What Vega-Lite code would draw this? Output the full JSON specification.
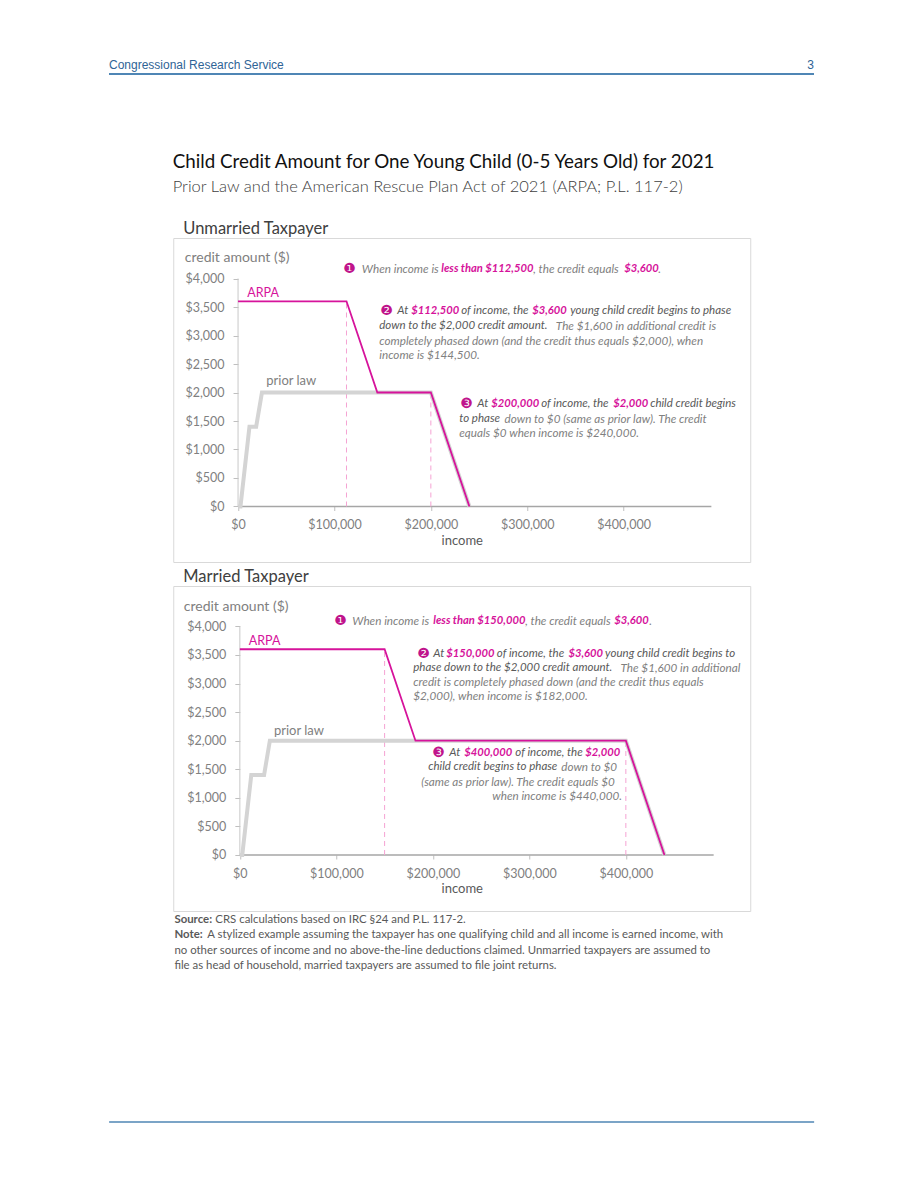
{
  "$schema": "https://vega.github.io/schema/vega-lite/v6.json",
  "background": "white",
  "padding": {"left": 108, "top": 54, "right": 0, "bottom": 0},
  "config": {"font": "Lato", "view": {"stroke": "#d9d9d9", "strokeWidth": 1}},
  "datasets": {
    "unmarried_lines": [
      {"series": "prior law", "income": 0, "credit": 0},
      {"series": "prior law", "income": 2500, "credit": 0},
      {"series": "prior law", "income": 11833, "credit": 1400},
      {"series": "prior law", "income": 18800, "credit": 1400},
      {"series": "prior law", "income": 24800, "credit": 2000},
      {"series": "prior law", "income": 200000, "credit": 2000},
      {"series": "prior law", "income": 240000, "credit": 0},
      {"series": "ARPA", "income": 0, "credit": 3600},
      {"series": "ARPA", "income": 112500, "credit": 3600},
      {"series": "ARPA", "income": 144500, "credit": 2000},
      {"series": "ARPA", "income": 200000, "credit": 2000},
      {"series": "ARPA", "income": 240000, "credit": 0}
    ],
    "married_lines": [
      {"series": "prior law", "income": 0, "credit": 0},
      {"series": "prior law", "income": 2500, "credit": 0},
      {"series": "prior law", "income": 11833, "credit": 1400},
      {"series": "prior law", "income": 25100, "credit": 1400},
      {"series": "prior law", "income": 31100, "credit": 2000},
      {"series": "prior law", "income": 400000, "credit": 2000},
      {"series": "prior law", "income": 440000, "credit": 0},
      {"series": "ARPA", "income": 0, "credit": 3600},
      {"series": "ARPA", "income": 150000, "credit": 3600},
      {"series": "ARPA", "income": 182000, "credit": 2000},
      {"series": "ARPA", "income": 400000, "credit": 2000},
      {"series": "ARPA", "income": 440000, "credit": 0}
    ],
    "unmarried_markers": [
      {"income": 112500, "credit": 0, "credit2": 3600},
      {"income": 200000, "credit": 0, "credit2": 2000}
    ],
    "married_markers": [
      {"income": 150000, "credit": 0, "credit2": 3600},
      {"income": 400000, "credit": 0, "credit2": 2000}
    ],
    "unmarried_labels": [
      {"series": "ARPA", "income": 9540, "credit": 3746, "text": "ARPA"},
      {"series": "prior law", "income": 29250, "credit": 2202, "text": "prior law"}
    ],
    "married_labels": [
      {"series": "ARPA", "income": 9220, "credit": 3745, "text": "ARPA"},
      {"series": "prior law", "income": 35340, "credit": 2170, "text": "prior law"}
    ],
    "unmarried_notes": [
      {"kind": "num", "income": 109130, "credit": 4167, "text": "❶"},
      {"kind": "light", "income": 128420, "credit": 4167, "text": "When income is"},
      {"kind": "emph", "income": 210790, "credit": 4167, "text": "less than $112,500"},
      {"kind": "light", "income": 306300, "credit": 4167, "text": ", the credit equals"},
      {"kind": "emph", "income": 400620, "credit": 4167, "text": "$3,600"},
      {"kind": "light", "income": 435890, "credit": 4167, "text": "."},
      {"kind": "num", "income": 147510, "credit": 3430, "text": "❷"},
      {"kind": "dark", "income": 165150, "credit": 3430, "text": "At"},
      {"kind": "emph", "income": 179670, "credit": 3430, "text": "$112,500"},
      {"kind": "dark", "income": 231540, "credit": 3430, "text": "of income, the"},
      {"kind": "emph", "income": 305190, "credit": 3430, "text": "$3,600"},
      {"kind": "dark", "income": 344610, "credit": 3430, "text": "young child credit begins to phase"},
      {"kind": "dark", "income": 146470, "credit": 3167, "text": "down to the $2,000 credit amount."},
      {"kind": "light", "income": 329670, "credit": 3167, "text": "The $1,600 in additional credit is"},
      {"kind": "light", "income": 146470, "credit": 2904, "text": "completely phased down (and the credit thus equals $2,000), when"},
      {"kind": "light", "income": 146470, "credit": 2658, "text": "income is $144,500."},
      {"kind": "num", "income": 230500, "credit": 1798, "text": "❸"},
      {"kind": "dark", "income": 248130, "credit": 1798, "text": "At"},
      {"kind": "emph", "income": 262650, "credit": 1798, "text": "$200,000"},
      {"kind": "dark", "income": 314500, "credit": 1798, "text": "of income, the"},
      {"kind": "emph", "income": 389210, "credit": 1798, "text": "$2,000"},
      {"kind": "dark", "income": 427500, "credit": 1798, "text": "child credit begins"},
      {"kind": "dark", "income": 229460, "credit": 1535, "text": "to phase"},
      {"kind": "light", "income": 276500, "credit": 1535, "text": "down to $0 (same as prior law). The credit"},
      {"kind": "light", "income": 229460, "credit": 1289, "text": "equals $0 when income is $240,000."}
    ],
    "married_notes": [
      {"kind": "num", "income": 97820, "credit": 4094, "text": "❶"},
      {"kind": "light", "income": 116480, "credit": 4094, "text": "When income is"},
      {"kind": "emph", "income": 200410, "credit": 4094, "text": "less than $150,000"},
      {"kind": "light", "income": 295750, "credit": 4094, "text": ", the credit equals"},
      {"kind": "emph", "income": 387980, "credit": 4094, "text": "$3,600"},
      {"kind": "light", "income": 424250, "credit": 4094, "text": "."},
      {"kind": "num", "income": 183830, "credit": 3517, "text": "❷"},
      {"kind": "dark", "income": 200410, "credit": 3517, "text": "At"},
      {"kind": "emph", "income": 214000, "credit": 3517, "text": "$150,000"},
      {"kind": "dark", "income": 266300, "credit": 3517, "text": "of income, the"},
      {"kind": "emph", "income": 340500, "credit": 3517, "text": "$3,600"},
      {"kind": "dark", "income": 378500, "credit": 3517, "text": "young child credit begins to"},
      {"kind": "dark", "income": 179690, "credit": 3272, "text": "phase down to the $2,000 credit amount."},
      {"kind": "light", "income": 394500, "credit": 3272, "text": "The $1,600 in additional"},
      {"kind": "light", "income": 179690, "credit": 3027, "text": "credit is completely phased down (and the credit thus equals"},
      {"kind": "light", "income": 179690, "credit": 2782, "text": "$2,000), when income is $182,000."},
      {"kind": "num", "income": 199380, "credit": 1785, "text": "❸"},
      {"kind": "dark", "income": 216990, "credit": 1785, "text": "At"},
      {"kind": "emph", "income": 232540, "credit": 1785, "text": "$400,000"},
      {"kind": "dark", "income": 285500, "credit": 1785, "text": "of income, the"},
      {"kind": "emph", "income": 357930, "credit": 1785, "text": "$2,000"},
      {"kind": "dark", "income": 195230, "credit": 1540, "text": "child credit begins to phase"},
      {"kind": "light", "income": 333060, "credit": 1540, "text": "down to $0"},
      {"kind": "light", "income": 187980, "credit": 1277, "text": "(same as prior law). The credit equals $0"},
      {"kind": "light", "income": 261560, "credit": 1032, "text": "when income is $440,000."}
    ]
  },
  "center": true,
  "spacing": 77,
  "vconcat": [
    {
      "width": 705,
      "height": 20,
      "view": {"stroke": null},
      "data": {"values": [
        {"label": "Congressional Research Service", "pos": 0, "level": 0.45},
        {"label": "3", "pos": 1, "level": 0.45}
      ]},
      "encoding": {
        "x": {"field": "pos", "type": "quantitative", "scale": {"domain": [0, 1]}, "axis": null},
        "y": {"field": "level", "type": "quantitative", "scale": {"domain": [0, 1]}, "axis": null}
      },
      "layer": [
        {"transform": [{"filter": "datum.pos === 0"}], "mark": {"type": "text", "align": "left", "baseline": "middle", "font": "Liberation Sans", "fontSize": 12, "color": "#2f6496"}, "encoding": {"text": {"field": "label"}}},
        {"transform": [{"filter": "datum.pos === 1"}], "mark": {"type": "text", "align": "right", "baseline": "middle", "font": "Liberation Sans", "fontSize": 12, "color": "#2f6496"}, "encoding": {"text": {"field": "label"}}},
        {"data": {"values": [{"pos": 0, "pos2": 1, "level": 0}]}, "mark": {"type": "rule", "color": "#4f86b5", "strokeWidth": 2}, "encoding": {"x2": {"field": "pos2"}}}
      ]
    },
    {
      "spacing": 0,
      "vconcat": [
        {
          "title": {"text": "Child Credit Amount for One Young Child (0-5 Years Old) for 2021", "subtitle": "Prior Law and the American Rescue Plan Act of 2021 (ARPA; P.L. 117-2)", "anchor": "start", "font": "Lato", "fontSize": 18.8, "fontWeight": "normal", "color": "#111111", "subtitleFont": "Lato", "subtitleFontSize": 16.5, "subtitleFontWeight": 300, "subtitleColor": "#404040", "subtitlePadding": 7, "offset": 25},
          "spacing": 5,
          "vconcat": [
            {
              "width": 577,
              "height": 324,
              "title": {"text": "Unmarried Taxpayer", "anchor": "start", "dx": 10, "font": "Lato", "fontSize": 16.5, "fontWeight": "normal", "color": "#404040", "offset": 1},
              "encoding": {
                "x": {"field": "income", "type": "quantitative", "scale": {"domain": [-67220, 531330], "nice": false, "zero": false},
                  "axis": {"values": [0, 100000, 200000, 300000, 400000], "format": "$,.0f", "offset": -55.5, "domain": false, "grid": false, "ticks": true, "tickColor": "#bfbfbf", "tickSize": 4, "labelPadding": 8, "labelColor": "#808080", "labelFont": "Lato", "labelFontSize": 12.5, "title": "income", "titleFont": "Lato", "titleFontSize": 13, "titleFontWeight": "normal", "titleColor": "#595959", "titlePadding": 3}},
                "y": {"field": "credit", "type": "quantitative", "scale": {"domain": [-974, 4711], "nice": false, "zero": false},
                  "axis": {"values": [0, 500, 1000, 1500, 2000, 2500, 3000, 3500, 4000], "format": "$,.0f", "offset": -64.8, "domain": false, "grid": false, "ticks": true, "tickColor": "#bfbfbf", "tickSize": 5, "labelPadding": 9, "labelColor": "#808080", "labelFont": "Lato", "labelFontSize": 12.5, "title": "credit amount ($)", "titleAngle": 0, "titleAlign": "left", "titleBaseline": "middle", "titleX": -53.8, "titleY": 19, "titleFont": "Lato", "titleFontSize": 14, "titleFontWeight": "normal", "titleColor": "#808080"}}
              },
              "layer": [
                {"data": {"values": [{"income": 0, "credit": 0, "credit2": 4000}]}, "mark": {"type": "rule", "color": "#c8c8c8", "strokeWidth": 1}, "encoding": {"y2": {"field": "credit2"}}},
                {"data": {"values": [{"income": 0, "income2": 491000, "credit": 0}]}, "mark": {"type": "rule", "color": "#a6a6a6", "strokeWidth": 1.5}, "encoding": {"x2": {"field": "income2"}}},
                {"data": {"name": "unmarried_markers"}, "mark": {"type": "rule", "color": "#f5a3d3", "strokeWidth": 1, "strokeDash": [5, 4]}, "encoding": {"y2": {"field": "credit2"}}},
                {"data": {"name": "unmarried_lines"}, "transform": [{"filter": "datum.series === 'prior law'"}], "mark": {"type": "line", "color": "#d4d4d4", "strokeWidth": 4}, "encoding": {}},
                {"data": {"name": "unmarried_lines"}, "transform": [{"filter": "datum.series === 'ARPA'"}], "mark": {"type": "line", "color": "#d6139b", "strokeWidth": 1.8}, "encoding": {}},
                {"data": {"name": "unmarried_labels"}, "transform": [{"filter": "datum.series === 'ARPA'"}], "mark": {"type": "text", "align": "left", "baseline": "middle", "color": "#d6139b", "fontSize": 12.5}, "encoding": {"text": {"field": "text"}}},
                {"data": {"name": "unmarried_labels"}, "transform": [{"filter": "datum.series === 'prior law'"}], "mark": {"type": "text", "align": "left", "baseline": "middle", "color": "#808080", "fontSize": 13}, "encoding": {"text": {"field": "text"}}},
                {"data": {"name": "unmarried_notes"}, "transform": [{"filter": "datum.kind === 'num'"}], "mark": {"type": "text", "align": "left", "baseline": "middle", "font": "DejaVu Sans", "color": "#c0148c", "fontSize": 14}, "encoding": {"text": {"field": "text"}}},
                {"data": {"name": "unmarried_notes"}, "transform": [{"filter": "datum.kind === 'emph'"}], "mark": {"type": "text", "align": "left", "baseline": "middle", "font": "Lato", "fontStyle": "italic", "fontWeight": "bold", "color": "#d6139b", "fontSize": 11.2}, "encoding": {"text": {"field": "text"}}},
                {"data": {"name": "unmarried_notes"}, "transform": [{"filter": "datum.kind === 'dark'"}], "mark": {"type": "text", "align": "left", "baseline": "middle", "font": "Lato", "fontStyle": "italic", "color": "#595959", "fontSize": 11.5}, "encoding": {"text": {"field": "text"}}},
                {"data": {"name": "unmarried_notes"}, "transform": [{"filter": "datum.kind === 'light'"}], "mark": {"type": "text", "align": "left", "baseline": "middle", "font": "Lato", "fontStyle": "italic", "color": "#808080", "fontSize": 11.7}, "encoding": {"text": {"field": "text"}}}
              ]
            },
            {
              "width": 577,
              "height": 325,
              "title": {"text": "Married Taxpayer", "anchor": "start", "dx": 10, "font": "Lato", "fontSize": 16.5, "fontWeight": "normal", "color": "#404040", "offset": 1},
              "encoding": {
                "x": {"field": "income", "type": "quantitative", "scale": {"domain": [-69020, 528910], "nice": false, "zero": false},
                  "axis": {"values": [0, 100000, 200000, 300000, 400000], "format": "$,.0f", "offset": -56, "domain": false, "grid": false, "ticks": true, "tickColor": "#bfbfbf", "tickSize": 4, "labelPadding": 8, "labelColor": "#808080", "labelFont": "Lato", "labelFontSize": 12.5, "title": "income", "titleFont": "Lato", "titleFontSize": 13, "titleFontWeight": "normal", "titleColor": "#595959", "titlePadding": 3}},
                "y": {"field": "credit", "type": "quantitative", "scale": {"domain": [-980, 4707], "nice": false, "zero": false},
                  "axis": {"values": [0, 500, 1000, 1500, 2000, 2500, 3000, 3500, 4000], "format": "$,.0f", "offset": -66.6, "domain": false, "grid": false, "ticks": true, "tickColor": "#bfbfbf", "tickSize": 5, "labelPadding": 9, "labelColor": "#808080", "labelFont": "Lato", "labelFontSize": 12.5, "title": "credit amount ($)", "titleAngle": 0, "titleAlign": "left", "titleBaseline": "middle", "titleX": -56.6, "titleY": 20, "titleFont": "Lato", "titleFontSize": 14, "titleFontWeight": "normal", "titleColor": "#808080"}}
              },
              "layer": [
                {"data": {"values": [{"income": 0, "credit": 0, "credit2": 4000}]}, "mark": {"type": "rule", "color": "#c8c8c8", "strokeWidth": 1}, "encoding": {"y2": {"field": "credit2"}}},
                {"data": {"values": [{"income": 0, "income2": 491000, "credit": 0}]}, "mark": {"type": "rule", "color": "#a6a6a6", "strokeWidth": 1.5}, "encoding": {"x2": {"field": "income2"}}},
                {"data": {"name": "married_markers"}, "mark": {"type": "rule", "color": "#f5a3d3", "strokeWidth": 1, "strokeDash": [5, 4]}, "encoding": {"y2": {"field": "credit2"}}},
                {"data": {"name": "married_lines"}, "transform": [{"filter": "datum.series === 'prior law'"}], "mark": {"type": "line", "color": "#d4d4d4", "strokeWidth": 4}, "encoding": {}},
                {"data": {"name": "married_lines"}, "transform": [{"filter": "datum.series === 'ARPA'"}], "mark": {"type": "line", "color": "#d6139b", "strokeWidth": 1.8}, "encoding": {}},
                {"data": {"name": "married_labels"}, "transform": [{"filter": "datum.series === 'ARPA'"}], "mark": {"type": "text", "align": "left", "baseline": "middle", "color": "#d6139b", "fontSize": 12.5}, "encoding": {"text": {"field": "text"}}},
                {"data": {"name": "married_labels"}, "transform": [{"filter": "datum.series === 'prior law'"}], "mark": {"type": "text", "align": "left", "baseline": "middle", "color": "#808080", "fontSize": 13}, "encoding": {"text": {"field": "text"}}},
                {"data": {"name": "married_notes"}, "transform": [{"filter": "datum.kind === 'num'"}], "mark": {"type": "text", "align": "left", "baseline": "middle", "font": "DejaVu Sans", "color": "#c0148c", "fontSize": 14}, "encoding": {"text": {"field": "text"}}},
                {"data": {"name": "married_notes"}, "transform": [{"filter": "datum.kind === 'emph'"}], "mark": {"type": "text", "align": "left", "baseline": "middle", "font": "Lato", "fontStyle": "italic", "fontWeight": "bold", "color": "#d6139b", "fontSize": 11.2}, "encoding": {"text": {"field": "text"}}},
                {"data": {"name": "married_notes"}, "transform": [{"filter": "datum.kind === 'dark'"}], "mark": {"type": "text", "align": "left", "baseline": "middle", "font": "Lato", "fontStyle": "italic", "color": "#595959", "fontSize": 11.5}, "encoding": {"text": {"field": "text"}}},
                {"data": {"name": "married_notes"}, "transform": [{"filter": "datum.kind === 'light'"}], "mark": {"type": "text", "align": "left", "baseline": "middle", "font": "Lato", "fontStyle": "italic", "color": "#808080", "fontSize": 11.7}, "encoding": {"text": {"field": "text"}}}
              ]
            }
          ]
        },
        {
          "width": 577,
          "height": 62,
          "view": {"stroke": null},
          "data": {"values": [
            {"kind": "label", "line": 0, "pos": 0.2, "text": "Source:"},
            {"kind": "body", "line": 0, "pos": 7.3, "text": "CRS calculations based on IRC §24 and P.L. 117-2."},
            {"kind": "label", "line": 1, "pos": 0.2, "text": "Note:"},
            {"kind": "body", "line": 1, "pos": 5.9, "text": "A stylized example assuming the taxpayer has one qualifying child and all income is earned income, with"},
            {"kind": "body", "line": 2, "pos": 0.2, "text": "no other sources of income and no above-the-line deductions claimed. Unmarried taxpayers are assumed to"},
            {"kind": "body", "line": 3, "pos": 0.2, "text": "file as head of household, married taxpayers are assumed to file joint returns."}
          ]},
          "encoding": {
            "x": {"field": "pos", "type": "quantitative", "scale": {"domain": [0, 100]}, "axis": null},
            "y": {"field": "line", "type": "quantitative", "scale": {"domain": [-0.5, 3.5], "reverse": true}, "axis": null},
            "text": {"field": "text"}
          },
          "layer": [
            {"transform": [{"filter": "datum.kind === 'label'"}], "mark": {"type": "text", "align": "left", "baseline": "middle", "font": "Lato", "fontWeight": "bold", "fontSize": 11.4, "color": "#595959"}},
            {"transform": [{"filter": "datum.kind === 'body'"}], "mark": {"type": "text", "align": "left", "baseline": "middle", "font": "Lato", "fontSize": 11.4, "color": "#595959"}}
          ]
        }
      ]
    },
    {
      "width": 705,
      "height": 71,
      "view": {"stroke": null},
      "data": {"values": [{"pos": 0, "pos2": 1, "level": 0}]},
      "mark": {"type": "rule", "color": "#4f86b5", "strokeWidth": 1.5},
      "encoding": {
        "x": {"field": "pos", "type": "quantitative", "scale": {"domain": [0, 1]}, "axis": null},
        "x2": {"field": "pos2"},
        "y": {"field": "level", "type": "quantitative", "scale": {"domain": [0, 1]}, "axis": null}
      }
    }
  ]
}
